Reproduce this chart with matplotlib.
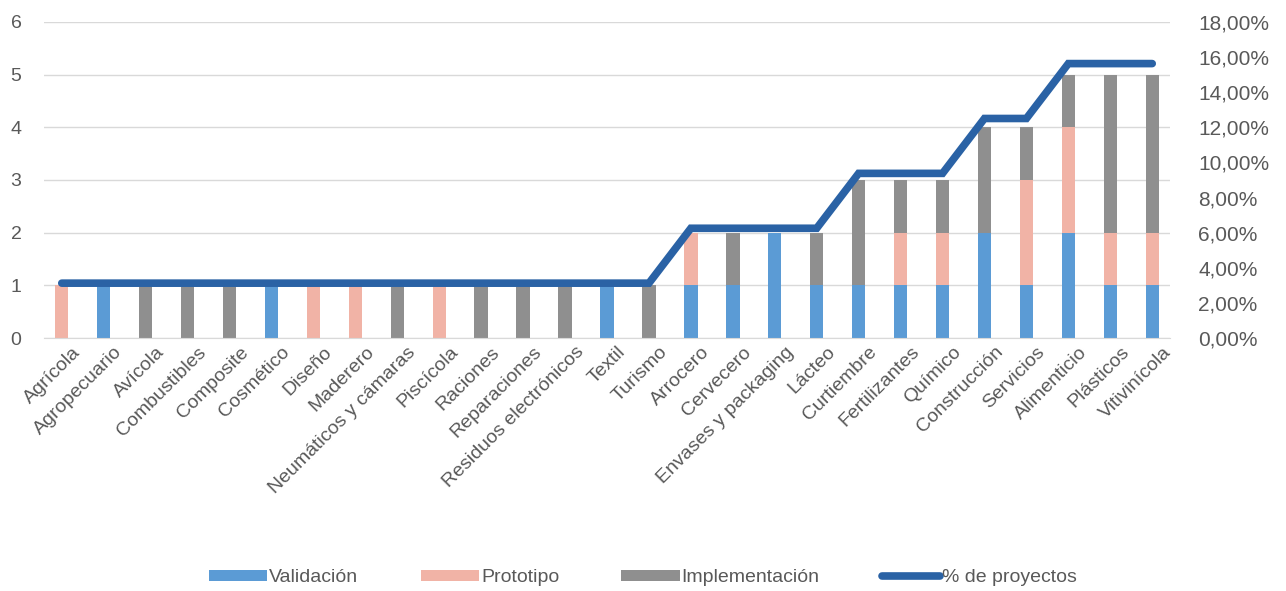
import numpy as np
import matplotlib
matplotlib.use("Agg")
import matplotlib.pyplot as plt
import matplotlib.transforms as mtransforms
from matplotlib.ticker import FuncFormatter

plt.rcParams['font.family'] = ['Liberation Sans', 'DejaVu Sans']

sectores = ["Agrícola", "Agropecuario", "Avícola", "Combustibles", "Composite",
            "Cosmético", "Diseño", "Maderero", "Neumáticos y cámaras", "Piscícola",
            "Raciones", "Reparaciones", "Residuos electrónicos", "Textil", "Turismo",
            "Arrocero", "Cervecero", "Envases y packaging", "Lácteo", "Curtiembre",
            "Fertilizantes", "Químico", "Construcción", "Servicios", "Alimenticio",
            "Plásticos", "Vitivinícola"]
validacion = [0, 1, 0, 0, 0, 1, 0, 0, 0, 0, 0, 0, 0, 1, 0,
              1, 1, 2, 1, 1, 1, 1, 2, 1, 2, 1, 1]
prototipo = [1, 0, 0, 0, 0, 0, 1, 1, 0, 1, 0, 0, 0, 0, 0,
             1, 0, 0, 0, 0, 1, 1, 0, 2, 2, 1, 1]
implementacion = [0, 0, 1, 1, 1, 0, 0, 0, 1, 0, 1, 1, 1, 0, 1,
                  0, 1, 0, 1, 2, 1, 1, 2, 1, 1, 3, 3]
# % de proyectos (sobre 32 proyectos)
pct_proyectos = [3.125] * 15 + [6.25] * 4 + [9.375] * 3 + [12.5] * 2 + [15.625] * 3

grey = '#595959'
c_val = '#5b9bd5'
c_pro = '#f1b3a6'
c_imp = '#8f8f8f'
c_line = '#2a62a5'

x = np.arange(len(sectores))
v = np.array(validacion)
p = np.array(prototipo)
im = np.array(implementacion)

fig = plt.figure(figsize=(12.86, 5.91), dpi=100)
ax = fig.add_axes([0.034, 0.428, 0.876, 0.535])
ax2 = ax.twinx()

w = 0.32
ax.bar(x, v, w, color=c_val, label='Validación', zorder=2)
ax.bar(x, p, w, bottom=v, color=c_pro, label='Prototipo', zorder=2)
ax.bar(x, im, w, bottom=v + p, color=c_imp, label='Implementación', zorder=2)
ax2.plot(x, np.array(pct_proyectos) / 100, color=c_line, lw=5.5, label='% de proyectos',
         solid_joinstyle='miter', solid_capstyle='round')

ax.set_ylim(0, 6)
ax.set_yticks(range(7))
ax2.set_ylim(0, 0.18)
ax2.set_yticks(np.arange(0, 0.181, 0.02))
ax2.yaxis.set_major_formatter(FuncFormatter(lambda val, pos: f"{val*100:.2f}%".replace('.', ',')))
ax.set_xlim(-0.43, len(sectores) - 0.57)

ax.grid(axis='y', color='#d9d9d9', lw=1, zorder=0)
ax.set_axisbelow(True)
for a in (ax, ax2):
    for s in a.spines.values():
        s.set_visible(False)
    a.tick_params(length=0, colors=grey, labelsize=14)
ax.spines['bottom'].set_visible(True)
ax.spines['bottom'].set_color('#d9d9d9')

ax.set_xticks(x)
ax.set_xticklabels(sectores, rotation=45, ha='right', rotation_mode='anchor')
ax.tick_params(axis='x', pad=4)
ax.tick_params(axis='y', pad=16)
ax2.tick_params(axis='y', pad=20, labelsize=15)
# shift rotated labels slightly to the right, like the original
shift = mtransforms.ScaledTranslation(10 / 100, 0, fig.dpi_scale_trans)
for lbl in ax.get_xticklabels():
    lbl.set_transform(lbl.get_transform() + shift)

h1, l1 = ax.get_legend_handles_labels()
h2, l2 = ax2.get_legend_handles_labels()
fig.legend(h1 + h2, l1 + l2, loc='center', bbox_to_anchor=(0.5, 0.022), ncol=4,
           frameon=False, fontsize=14, labelcolor=grey, handlelength=3.0,
           handleheight=0.45, handletextpad=0.1, columnspacing=3.2)

fig.savefig('out.png', dpi=100)
